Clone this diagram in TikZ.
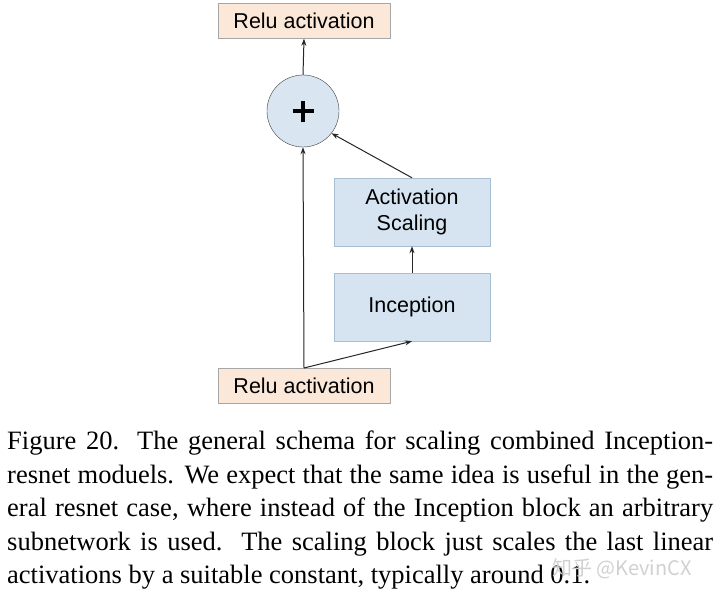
\documentclass[tikz,border=0pt]{standalone}
\usepackage{fontspec}
\setmainfont{Liberation Serif}
\newfontfamily\diagfont{Liberation Sans}
\newfontfamily\cjkfont{Noto Sans CJK SC}
\usetikzlibrary{arrows.meta}
\begin{document}
\begin{tikzpicture}[x=1pt,y=-1pt,
  relubox/.style={draw=black!35,fill={rgb,255:red,252;green,232;blue,216},minimum width=172pt,minimum height=35pt,inner sep=0pt,font=\diagfont\fontsize{21.5}{24}\selectfont},
  bluebox/.style={draw={rgb,255:red,170;green,190;blue,210},fill={rgb,255:red,214;green,228;blue,242},minimum width=156pt,minimum height=68pt,inner sep=0pt,align=center,font=\diagfont\fontsize{21.5}{26}\selectfont},
  addnode/.style={circle,draw=black!75,fill={rgb,255:red,217;green,230;blue,242},minimum size=72pt,inner sep=0pt},
  conn/.style={draw=black!85,line width=1pt,-{Stealth[length=7pt,width=5pt]}}]
\useasboundingbox (0,0) rectangle (720,594);
\fill[white] (0,0) rectangle (720,594);
\node[relubox] (top) at (304,21) {Relu activation};
\node[addnode] (add) at (303,111) {};
\draw[line width=4.6pt] (add.center) ++(-10.5,0) -- ++(21,0);
\draw[line width=4.6pt] (add.center) ++(0,-10.5) -- ++(0,21);
\node[bluebox] (scale) at (412,212) {Activation\\Scaling};
\node[bluebox] (incep) at (412,307) {Inception};
\node[relubox] (bot) at (304,386) {Relu activation};
\coordinate (split) at (304,368);
\draw[conn] (split) -- (add.south);
\draw[conn] (split) -- (incep.south);
\draw[conn] (incep.north) -- (scale.north |- scale.south);
\draw[conn] (scale.north) -- (add.-38);
\draw[conn] (add.north) -- (top.south);
\node[anchor=north west,inner sep=0pt,text width=706pt,align=justify,font=\fontsize{26.5}{33.5}\selectfont] (cap) at (7,431)
{Figure 20. The general schema for scaling combined Inception-\linebreak
resnet moduels. We expect that the same idea is useful in the gen-\linebreak
eral resnet case, where instead of the Inception block an arbitrary\linebreak
subnetwork is used.\ \ The scaling block just scales the last linear\linebreak
activations by a suitable constant, typically around 0.1.};
\node[anchor=west,inner sep=0pt,text=black!18,font=\cjkfont\fontsize{20}{22}\selectfont] (wm) at (552,569) {知乎 @KevinCX};
\end{tikzpicture}
\end{document}
